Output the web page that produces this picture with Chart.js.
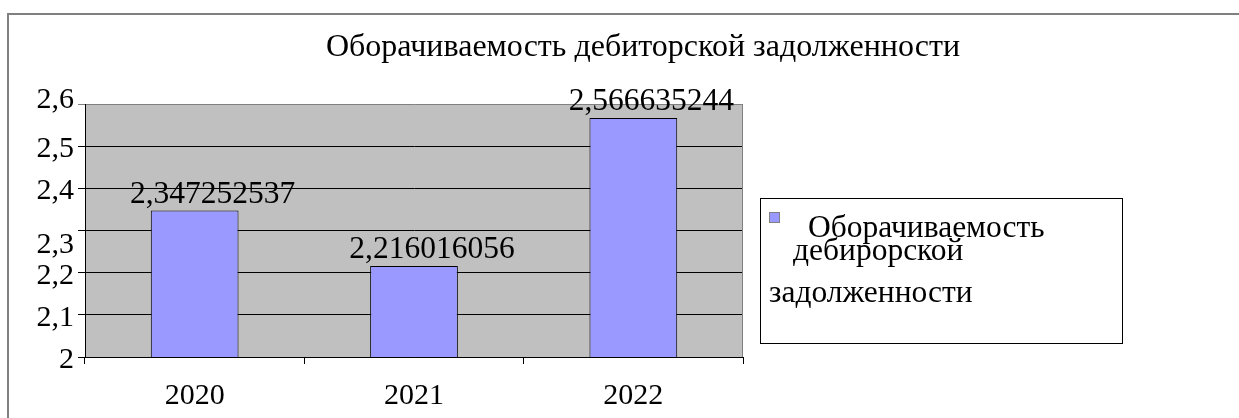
<!DOCTYPE html>
<html>
<head>
<meta charset="utf-8">
<script src="https://cdn.jsdelivr.net/npm/chart.js@4"></script>
<style>
html,body{margin:0;padding:0;background:#fff;}
canvas{display:block;}
</style>
</head>
<body>
<canvas id="c" width="1239" height="418"></canvas>
<script>
const chartTitle = 'Оборачиваемость дебиторской задолженности';
const seriesName = 'Оборачиваемость дебирорской задолженности';
const categories = ['2020', '2021', '2022'];
const values = [2.347252537, 2.216016056, 2.566635244];
const yTickValues = [2, 2.1, 2.2, 2.3, 2.4, 2.5, 2.6];
const yTickLabels = ['2', '2,1', '2,2', '2,3', '2,4', '2,5', '2,6'];

const FONT = "'Liberation Serif', 'Times New Roman', serif";
const FS = 30;

const isV = (a, b) => Math.abs(a - b) < 1e-9;

const decor = {
  id: 'decor',
  beforeDraw(chart) {
    const ctx = chart.ctx, a = chart.chartArea;
    ctx.save();
    ctx.strokeStyle = '#808080';
    ctx.lineWidth = 2;
    ctx.beginPath();
    ctx.moveTo(8, 418); ctx.lineTo(8, 14); ctx.lineTo(1239, 14);
    ctx.stroke();
    ctx.fillStyle = '#C0C0C0';
    ctx.fillRect(a.left, a.top, a.right - a.left, a.bottom - a.top);
    ctx.restore();
  },
  afterDatasetsDraw(chart) {
    const ctx = chart.ctx, a = chart.chartArea;
    ctx.save();
    ctx.strokeStyle = '#808080';
    ctx.lineWidth = 1;
    ctx.beginPath();
    ctx.moveTo(a.right - 0.5, a.top); ctx.lineTo(a.right - 0.5, a.bottom);
    ctx.stroke();
    // data labels
    ctx.fillStyle = '#000';
    ctx.font = '31.5px ' + FONT;
    ctx.textAlign = 'center';
    ctx.textBaseline = 'alphabetic';
    const meta = chart.getDatasetMeta(0);
    meta.data.forEach((bar, i) => {
      const txt = String(chart.data.datasets[0].data[i]).replace('.', ',');
      ctx.fillText(txt, bar.x + 18, bar.y - 8);
    });
    // title
    ctx.font = '32px ' + FONT;
    ctx.fillText(chartTitle, 643, 56);
    // legend
    ctx.fillStyle = '#fff';
    ctx.fillRect(760, 198, 362, 145);
    ctx.strokeStyle = '#000';
    ctx.lineWidth = 1;
    ctx.strokeRect(760.5, 198.5, 362, 145);
    ctx.fillStyle = '#9999FF';
    ctx.fillRect(769, 212, 11, 11);
    ctx.strokeStyle = '#808080';
    ctx.strokeRect(769.5, 212.5, 10, 10);
    const words = chart.data.datasets[0].label.split(' ');
    ctx.fillStyle = '#000';
    ctx.textAlign = 'left';
    ctx.font = '31.5px ' + FONT;
    ctx.fillText(words[0], 808, 237);
    ctx.fillText(words[1], 793, 260);
    ctx.fillText(words[2], 769, 302);
    ctx.restore();
  }
};

new Chart(document.getElementById('c'), {
  type: 'bar',
  data: {
    labels: categories,
    datasets: [{
      label: seriesName,
      data: values,
      backgroundColor: '#9999FF',
      borderColor: '#000',
      borderWidth: 1,
      categoryPercentage: 0.8,
      barPercentage: 0.5
    }]
  },
  options: {
    responsive: false,
    animation: false,
    layout: { padding: { left: 0, right: 496, top: 104, bottom: 0 } },
    plugins: { legend: { display: false }, title: { display: false }, tooltip: { enabled: false } },
    scales: {
      y: {
        min: 2, max: 2.6,
        afterBuildTicks(s) { s.ticks = yTickValues.map(v => ({ value: v })); },
        afterFit(s) { s.width = 85; },
        ticks: {
          autoSkip: false,
          color: '#000',
          padding: 4,
          font: ctx => {
            const v = ctx.tick ? ctx.tick.value : 0;
            if (isV(v, 2.3)) return { family: FONT, size: FS, lineHeight: '30px' };
            if (isV(v, 2.6)) return { family: FONT, size: FS, lineHeight: '8px' };
            return { family: FONT, size: FS, lineHeight: '6px' };
          },
          callback(v) {
            const i = yTickValues.findIndex(t => isV(t, v));
            if (i < 0) return '';
            if (isV(v, 2.6)) return [yTickLabels[i], ''];
            return ['', yTickLabels[i]];
          }
        },
        grid: {
          color: ctx => (ctx.tick && isV(ctx.tick.value, 2.6)) ? '#808080' : '#000',
          lineWidth: 1,
          tickLength: 7,
          drawTicks: true
        },
        border: { display: true, color: '#000' }
      },
      x: {
        afterFit(s) { s.height = 61; },
        ticks: { color: '#000', padding: 14, font: { family: FONT, size: FS } },
        grid: { drawOnChartArea: false, drawTicks: true, tickLength: 7, color: '#000' },
        border: { display: true, color: '#000' }
      }
    }
  },
  plugins: [decor]
});
</script>
</body>
</html>
